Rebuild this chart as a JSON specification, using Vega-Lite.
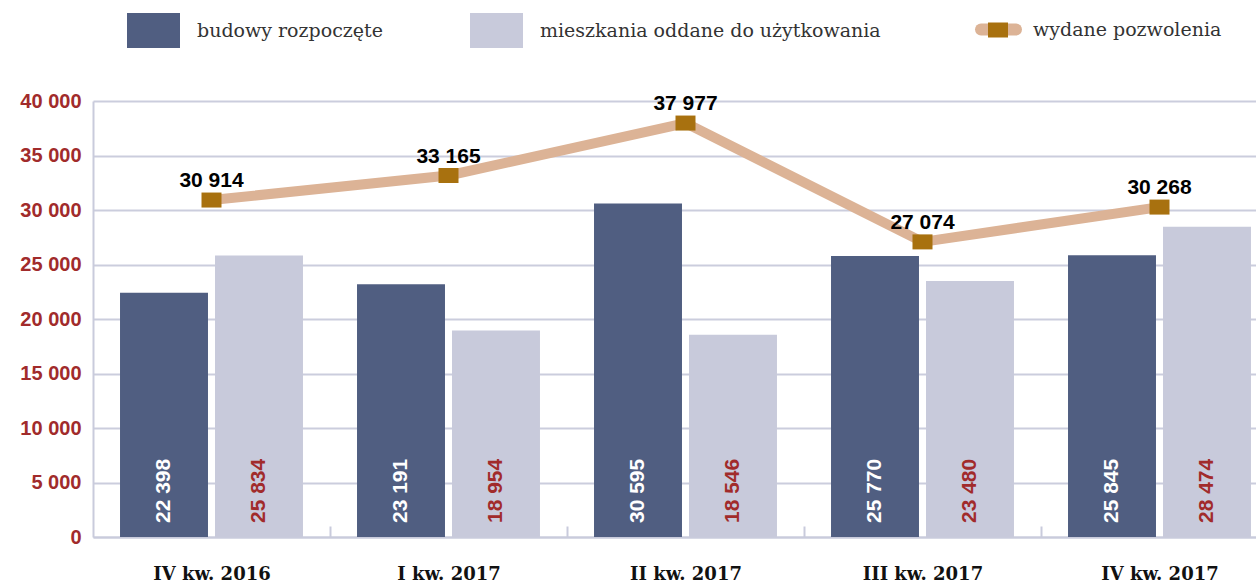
{
  "$schema": "https://vega.github.io/schema/vega-lite/v6.json",
  "width": 1163,
  "height": 436,
  "autosize": {"type": "none"},
  "padding": {"left": 93, "top": 101, "right": 0, "bottom": 45},
  "background": "white",
  "config": {
    "locale": {"number": {"decimal": ",", "thousands": " ", "grouping": [3], "currency": ["", " zł"]}},
    "view": {"stroke": null}
  },
  "datasets": {
    "bars": [
      {"kw": "IV kw. 2016", "seria": "budowy rozpoczęte", "value": 22398},
      {"kw": "IV kw. 2016", "seria": "mieszkania oddane do użytkowania", "value": 25834},
      {"kw": "I kw. 2017", "seria": "budowy rozpoczęte", "value": 23191},
      {"kw": "I kw. 2017", "seria": "mieszkania oddane do użytkowania", "value": 18954},
      {"kw": "II kw. 2017", "seria": "budowy rozpoczęte", "value": 30595},
      {"kw": "II kw. 2017", "seria": "mieszkania oddane do użytkowania", "value": 18546},
      {"kw": "III kw. 2017", "seria": "budowy rozpoczęte", "value": 25770},
      {"kw": "III kw. 2017", "seria": "mieszkania oddane do użytkowania", "value": 23480},
      {"kw": "IV kw. 2017", "seria": "budowy rozpoczęte", "value": 25845},
      {"kw": "IV kw. 2017", "seria": "mieszkania oddane do użytkowania", "value": 28474}
    ],
    "line": [
      {"kw": "IV kw. 2016", "value": 30914},
      {"kw": "I kw. 2017", "value": 33165},
      {"kw": "II kw. 2017", "value": 37977},
      {"kw": "III kw. 2017", "value": 27074},
      {"kw": "IV kw. 2017", "value": 30268}
    ]
  },
  "encoding": {
    "x": {
      "field": "kw", "type": "nominal", "sort": null,
      "scale": {"domain": ["IV kw. 2016", "I kw. 2017", "II kw. 2017", "III kw. 2017", "IV kw. 2017"], "range": [0, 1185], "paddingInner": 0.228, "paddingOuter": 0.114},
      "axis": {
        "title": null, "labelAngle": 0, "labelFont": "DejaVu Serif", "labelFontWeight": "bold", "labelFontSize": 18, "labelColor": "#111111",
        "labelPadding": 39, "tickOffset": 118.5, "labelOffset": -118.5, "tickSize": -11, "tickColor": "#c9cbdc", "tickWidth": 2,
        "domainColor": "#c9cbdc", "domainWidth": 2, "grid": false
      }
    }
  },
  "layer": [
    {
      "data": {"name": "bars"},
      "mark": {"type": "bar"},
      "encoding": {
        "xOffset": {"field": "seria", "type": "nominal", "scale": {"paddingInner": 0.074, "paddingOuter": 0}},
        "y": {
          "field": "value", "type": "quantitative",
          "scale": {"domain": [0, 40000], "nice": false},
          "axis": {
            "title": null, "values": [0, 5000, 10000, 15000, 20000, 25000, 30000, 35000, 40000], "format": ",d",
            "labelFont": "Liberation Sans", "labelFontWeight": "bold", "labelFontSize": 20, "labelColor": "#a12b2b",
            "labelPadding": 12, "ticks": false, "grid": true, "gridColor": "#cbcddd", "gridWidth": 2,
            "domainColor": "#c9cbdc", "domainWidth": 2
          }
        },
        "color": {
          "field": "seria", "type": "nominal",
          "scale": {"domain": ["budowy rozpoczęte", "mieszkania oddane do użytkowania"], "range": ["#505e81", "#c8cadb"]},
          "legend": {
            "title": null, "orient": "none", "direction": "horizontal", "legendX": 34, "legendY": -97,
            "symbolType": "M-1,-0.66H1V0.66H-1Z", "symbolSize": 2809, "symbolStrokeWidth": 0, "symbolOpacity": 1,
            "labelFont": "DejaVu Serif", "labelFontSize": 19, "labelColor": "#333333", "labelOffset": 17,
            "columnPadding": 87, "padding": 0, "labelLimit": 500
          }
        }
      }
    },
    {
      "data": {"name": "bars"},
      "mark": {"type": "text", "angle": 270, "align": "left", "baseline": "middle", "dx": 14, "font": "Liberation Sans", "fontWeight": "bold", "fontSize": 21},
      "encoding": {
        "xOffset": {"field": "seria", "type": "nominal", "scale": {"paddingInner": 0.074, "paddingOuter": 0}},
        "y": {"datum": 0, "type": "quantitative"},
        "text": {"field": "value", "type": "quantitative", "format": ",d"},
        "color": {"condition": {"test": "datum.seria === 'budowy rozpoczęte'", "value": "#ffffff"}, "value": "#a12b2b"}
      }
    },
    {
      "data": {"name": "line"},
      "mark": {"type": "line", "strokeWidth": 10, "strokeCap": "round", "strokeJoin": "round"},
      "encoding": {
        "y": {"field": "value", "type": "quantitative"},
        "stroke": {
          "datum": "wydane pozwolenia",
          "scale": {"range": ["#dcb396"]},
          "legend": {
            "title": null, "orient": "none", "legendX": 882, "legendY": -95, "symbolType": "stroke", "symbolSize": 1225,
            "symbolStrokeWidth": 12, "labelFont": "DejaVu Serif", "labelFontSize": 19, "labelColor": "#333333", "labelOffset": 11, "padding": 0, "labelLimit": 500,
            "encode": {"symbols": {"update": {"strokeCap": {"value": "round"}}}}
          }
        }
      }
    },
    {
      "data": {"name": "line"},
      "mark": {"type": "point", "filled": true, "opacity": 1, "size": 400, "color": "#a8710f"},
      "encoding": {
        "y": {"field": "value", "type": "quantitative"},
        "shape": {
          "datum": "marker",
          "scale": {"range": ["M-1,-0.75H1V0.75H-1Z"]},
          "legend": {
            "title": null, "orient": "none", "legendX": 895, "legendY": -81, "symbolType": "M-1,-0.75H1V0.75H-1Z", "symbolSize": 400,
            "symbolFillColor": "#a8710f", "symbolStrokeWidth": 0, "symbolOpacity": 1, "labelExpr": "''", "padding": 0
          }
        }
      }
    },
    {
      "data": {"name": "line"},
      "mark": {"type": "text", "baseline": "alphabetic", "dy": -13, "font": "Liberation Sans", "fontWeight": "bold", "fontSize": 21, "color": "#000000"},
      "encoding": {
        "y": {"field": "value", "type": "quantitative"},
        "text": {"field": "value", "type": "quantitative", "format": ",d"}
      }
    }
  ]
}
